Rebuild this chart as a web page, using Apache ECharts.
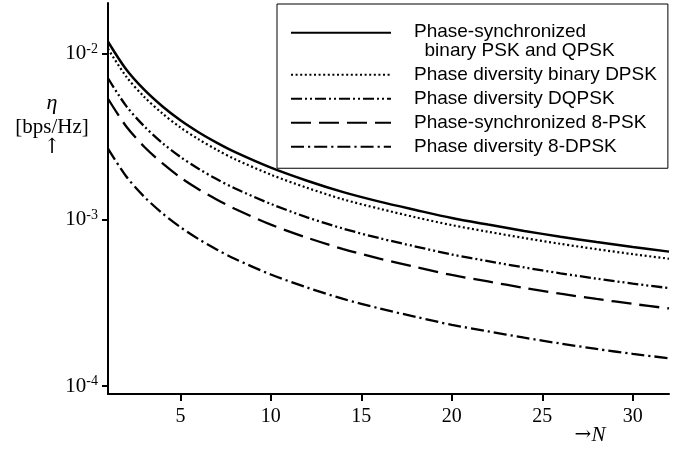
<!DOCTYPE html>
<html><head><meta charset="utf-8">
<script src="https://cdn.jsdelivr.net/npm/echarts@6/dist/echarts.min.js"></script>
<style>html,body{margin:0;padding:0;background:#fff}#c{width:688px;height:453px}</style>
</head><body><div id="c"></div>
<script>
// Number of diversity branches N
const nValues = [1,2,3,4,5,6,7,8,10,12,14,16,18,20,22,24,26,28,30,32];
const seriesNames = [
  "Phase-synchronized binary PSK and QPSK",
  "Phase diversity binary DPSK",
  "Phase diversity DQPSK",
  "Phase-synchronized 8-PSK",
  "Phase diversity 8-DPSK"
];
// eta [bps/Hz]
const pskQpsk = [0.01175,0.00802,0.00604,0.00480,0.00395,0.00335,0.00290,0.00255,0.00205,0.00171,0.00146,0.00128,0.00114,0.00102,0.000931,0.000853,0.000787,0.000731,0.000682,0.000640];
const binDpsk = [0.01065,0.00727,0.00547,0.00435,0.00358,0.00304,0.00263,0.00231,0.00186,0.00155,0.00132,0.00116,0.00103,0.000924,0.000843,0.000773,0.000713,0.000662,0.000618,0.000580];
const dqpsk   = [0.00708,0.00483,0.00364,0.00289,0.00238,0.00202,0.00175,0.00154,0.00124,0.00103,0.000880,0.000771,0.000687,0.000615,0.000561,0.000514,0.000474,0.000440,0.000411,0.000386];
const psk8    = [0.00533,0.00364,0.00274,0.00218,0.00179,0.00152,0.00132,0.00116,0.000930,0.000776,0.000663,0.000581,0.000517,0.000463,0.000423,0.000387,0.000357,0.000332,0.000310,0.000291];
const dpsk8   = [0.00267,0.00182,0.00137,0.00109,0.000899,0.000762,0.000660,0.000580,0.000466,0.000389,0.000332,0.000291,0.000259,0.000232,0.000212,0.000194,0.000179,0.000166,0.000155,0.000146];
const xTickValues = [5,10,15,20,25,30];
const yMin = 8.89e-5, yMax = 0.0201;

const allSeries = [pskQpsk, binDpsk, dqpsk, psk8, dpsk8];
const dashes = ['solid', [2,2.6], [11,3,2,3,2,3], [20,8], [13,4,2.2,4]];
const widths = [2.5, 2.2, 2.3, 2.3, 2.3];

const serif = 'Liberation Serif';
const sans = 'Liberation Sans';
const legendRich = {
  z: {fontFamily: sans, fontSize: 19, color: '#000', lineHeight: 16},
  a: {fontFamily: sans, fontSize: 19, color: '#000', lineHeight: 20},
  b: {fontFamily: sans, fontSize: 19, color: '#000', lineHeight: 18.5},
  c: {fontFamily: sans, fontSize: 19, color: '#000', lineHeight: 19}
};
const chart = echarts.init(document.getElementById('c'), null, {renderer:'canvas'});
chart.setOption({
  animation: false,
  backgroundColor: '#fff',
  grid: {left: 108, right: 19, top: 3, bottom: 59, containLabel: false},
  xAxis: {
    type: 'value', min: 1, max: 32,
    axisLine: {onZero: false, lineStyle: {color: '#000', width: 2}},
    axisTick: {customValues: xTickValues, length: 7, lineStyle: {color: '#000', width: 2}},
    axisLabel: {customValues: xTickValues, margin: 13, fontFamily: serif, fontSize: 20, color: '#000'},
    splitLine: {show: false}
  },
  yAxis: {
    type: 'log', min: yMin, max: yMax,
    axisLine: {show: true, onZero: false, lineStyle: {color: '#000', width: 2}},
    axisTick: {show: true, length: 6, lineStyle: {color: '#000', width: 2}},
    axisLabel: {
      showMinLabel: false, showMaxLabel: false, margin: 10,
      formatter: v => '{b|10}{s|' + Math.round(Math.log10(v)) + '}',
      rich: {
        b: {fontFamily: serif, fontSize: 21, color: '#000', lineHeight: 22, verticalAlign: 'bottom'},
        s: {fontFamily: serif, fontSize: 14, color: '#000', lineHeight: 14, verticalAlign: 'top', padding: [0,0,6,0]}
      }
    },
    splitLine: {show: false}, minorTick: {show: false}
  },
  legend: {
    orient: 'vertical', left: 277, top: 4,
    padding: [0, 11, 12, 13],
    borderColor: '#000', borderWidth: 1,
    itemWidth: 100, itemHeight: 19, itemGap: 5,
    itemStyle: {color: 'rgba(0,0,0,0)', borderWidth: 0, opacity: 0},
    textStyle: {fontFamily: sans, fontSize: 19, color: '#000', padding: [0,0,0,18], rich: legendRich},
    formatter: name => name === seriesNames[0]
      ? '{z| }\n{a|Phase-synchronized}\n{b|  binary PSK and QPSK}'
      : '{c|' + name + '}',
    data: seriesNames
  },
  series: allSeries.map((arr, i) => ({
    name: seriesNames[i],
    type: 'line',
    symbol: 'none', showSymbol: false,
    smooth: 0.3,
    lineStyle: {color: '#000', width: widths[i], type: dashes[i], cap: 'butt'},
    itemStyle: {color: '#000'},
    data: nValues.map((n, j) => [n, arr[j]])
  })),
  graphic: [
    {type: 'text', x: 52, y: 103, style: {text: 'η', font: 'italic 22px ' + serif, fill: '#000', align: 'center', verticalAlign: 'middle'}},
    {type: 'text', x: 52, y: 127, style: {text: '[bps/Hz]', font: '21px ' + serif, fill: '#000', align: 'center', verticalAlign: 'middle'}},
    {type: 'text', x: 52, y: 148, style: {text: '↑', font: '21px DejaVu Serif', fill: '#000', align: 'center', verticalAlign: 'middle'}},
    {type: 'text', x: 590, y: 435, style: {
      text: '{a|→}{n|N}', align: 'center', verticalAlign: 'middle',
      rich: {a: {font: '20px DejaVu Serif', fill: '#000'}, n: {font: 'italic 21px ' + serif, fill: '#000'}}
    }}
  ]
});
</script></body></html>
